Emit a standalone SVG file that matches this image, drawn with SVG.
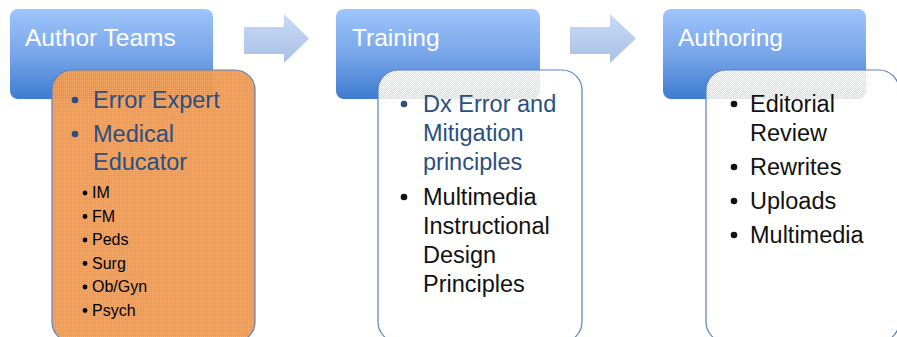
<svg xmlns="http://www.w3.org/2000/svg" width="897" height="337" viewBox="0 0 897 337">
<defs>
<linearGradient id="hdr" x1="0" y1="0" x2="0" y2="1">
<stop offset="0" stop-color="#9ec5fb"/>
<stop offset="0.5" stop-color="#79a6ea"/>
<stop offset="1" stop-color="#3d7bd0"/>
</linearGradient>
<linearGradient id="arr" x1="0" y1="0" x2="0" y2="1">
<stop offset="0" stop-color="#c9dbf6"/>
<stop offset="1" stop-color="#a8bfe6"/>
</linearGradient>
<pattern id="dotsW" patternUnits="userSpaceOnUse" width="2" height="2">
<rect width="2" height="2" fill="#ffffff" fill-opacity="0.72"/>
<rect width="1" height="1" fill="#ffffff" fill-opacity="0.9"/>
<rect x="1" y="1" width="1" height="1" fill="#ffffff" fill-opacity="0.9"/>
</pattern>
<pattern id="dotsO" patternUnits="userSpaceOnUse" width="2" height="2">
<rect width="2" height="2" fill="#f7923f" fill-opacity="0.95"/>
<rect width="1" height="1" fill="#fbad6c" fill-opacity="0.95"/>
</pattern>
<style>
.hdr{fill:url(#hdr);}
.htxt{font-family:"Liberation Sans",Arial,sans-serif;font-size:24.5px;fill:#ffffff;}
.body{stroke:#5a82bf;stroke-width:1.2;}
.big{font-family:"Liberation Sans",Arial,sans-serif;font-size:23.5px;}
.blue{fill:#2a4f80;}
.blk{fill:#111111;}
.small{font-family:"Liberation Sans",Arial,sans-serif;font-size:16px;fill:#000000;}
.arrow{fill:url(#arr);}
</style>
</defs>
<rect width="897" height="337" fill="#ffffff"/>
<g id="connectors">
<polygon class="arrow" points="244,27 284,27 284,14 309,38.5 284,63 284,54 244,54"/>
<polygon class="arrow" points="570,27 610,27 610,14 636,38.5 610,63 610,54 570,54"/>
</g>
<g id="author-teams">
<rect class="hdr" x="10" y="9" width="203" height="90" rx="8"/>
<text class="htxt" x="25" y="46">Author Teams</text>
</g>
<g id="author-teams-list">
<rect class="body" x="52" y="70" width="203" height="272" rx="20" fill="url(#dotsO)"/>
<g class="big blue">
<circle cx="75" cy="100" r="3.3" fill="#2a4f80"/>
<text x="93" y="108">Error Expert</text>
<circle cx="75" cy="134" r="3.3" fill="#2a4f80"/>
<text x="93" y="142">Medical</text>
<text x="93" y="170">Educator</text>
</g>
<g fill="#000000">
<circle cx="85" cy="193" r="2.4"/>
<circle cx="85" cy="216.5" r="2.4"/>
<circle cx="85" cy="240" r="2.4"/>
<circle cx="85" cy="263.5" r="2.4"/>
<circle cx="85" cy="287" r="2.4"/>
<circle cx="85" cy="310.5" r="2.4"/>
</g>
<text class="small" x="92" y="198">IM</text>
<text class="small" x="92" y="221.5">FM</text>
<text class="small" x="92" y="245">Peds</text>
<text class="small" x="92" y="268.5">Surg</text>
<text class="small" x="92" y="292">Ob/Gyn</text>
<text class="small" x="92" y="315.5">Psych</text>
</g>
<g id="training">
<rect class="hdr" x="336" y="9" width="204" height="90" rx="8"/>
<text class="htxt" x="352" y="46">Training</text>
</g>
<g id="training-list">
<rect class="body" x="378" y="70" width="204" height="272" rx="20" fill="url(#dotsW)"/>
<circle cx="404" cy="104" r="3.3" fill="#2a4f80"/>
<text class="big blue" x="423" y="112">Dx Error and</text>
<text class="big blue" x="423" y="141">Mitigation</text>
<text class="big blue" x="423" y="170">principles</text>
<circle cx="404" cy="197" r="3.3" fill="#111111"/>
<text class="big blk" x="423" y="205">Multimedia</text>
<text class="big blk" x="423" y="234">Instructional</text>
<text class="big blk" x="423" y="263">Design</text>
<text class="big blk" x="423" y="292">Principles</text>
</g>
<g id="authoring">
<rect class="hdr" x="663" y="9" width="203" height="90" rx="8"/>
<text class="htxt" x="678" y="46">Authoring</text>
</g>
<g id="authoring-list">
<rect class="body" x="706" y="70" width="193" height="272" rx="20" fill="url(#dotsW)"/>
<g fill="#111111">
<circle cx="734" cy="104" r="3.3"/>
<circle cx="734" cy="167" r="3.3"/>
<circle cx="734" cy="201" r="3.3"/>
<circle cx="734" cy="235" r="3.3"/>
</g>
<text class="big blk" x="750" y="112">Editorial</text>
<text class="big blk" x="750" y="141">Review</text>
<text class="big blk" x="750" y="175">Rewrites</text>
<text class="big blk" x="750" y="209">Uploads</text>
<text class="big blk" x="750" y="243">Multimedia</text>
</g>
</svg>
